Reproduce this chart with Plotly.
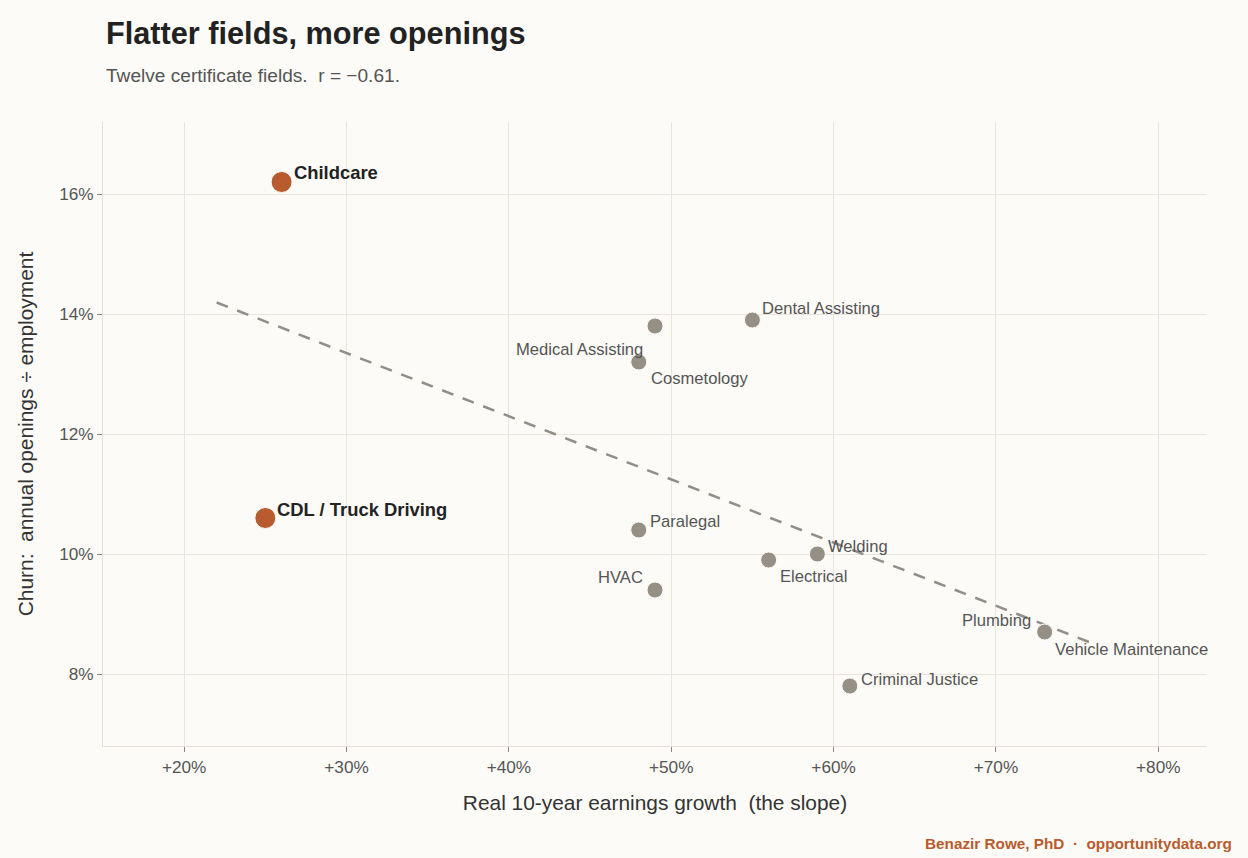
import numpy as np
import plotly.graph_objects as go

# ---- data ----
fields = ["Childcare", "CDL / Truck Driving", "Medical Assisting", "Cosmetology",
          "Dental Assisting", "Paralegal", "HVAC", "Electrical", "Welding",
          "Criminal Justice", "Plumbing", "Vehicle Maintenance"]
growth = [26, 25, 49, 48, 55, 48, 49, 56, 59, 61, 73, 73]          # % real 10-yr earnings growth
churn = [16.2, 10.6, 13.8, 13.2, 13.9, 10.4, 9.4, 9.9, 10.0, 7.8, 8.7, 8.7]  # % openings / employment
highlight = ["Childcare", "CDL / Truck Driving"]
x_ticks = [20, 30, 40, 50, 60, 70, 80]
x_tick_labels = ["+20%", "+30%", "+40%", "+50%", "+60%", "+70%", "+80%"]
y_ticks = [8, 10, 12, 14, 16]
y_tick_labels = ["8%", "10%", "12%", "14%", "16%"]

# label placement (styling only): xanchor, xshift, yshift
label_pos = {
    "Childcare": ("left", 10, 10),
    "CDL / Truck Driving": ("left", 10, 9),
    "Medical Assisting": ("right", -10, -23),
    "Cosmetology": ("left", 10, -16),
    "Dental Assisting": ("left", 8, 12),
    "Paralegal": ("left", 9, 9),
    "HVAC": ("right", -10, 13),
    "Electrical": ("left", 9, -16),
    "Welding": ("left", 9, 8),
    "Criminal Justice": ("left", 9, 7),
    "Plumbing": ("right", -12, 12),
    "Vehicle Maintenance": ("left", 8, -17),
}

BG = "#FCFBF7"
GRID = "#EAE5DA"
ORANGE = "#B85B2E"
GRAY_DOT = "#958F86"
TXT = "#555555"
FONT = "Liberation Sans, Arial, sans-serif"
SP2 = "\u00a0 "

gx = np.array(growth, float)
cy = np.array(churn, float)
slope, intercept = np.polyfit(gx, cy, 1)
tx = np.array([gx.min() - 3, gx.max() + 3])
ty = slope * tx + intercept

fig = go.Figure()
fig.add_trace(go.Scatter(x=tx, y=ty, mode="lines",
                         line=dict(color="#928E87", width=2.5, dash="12px,10px"),
                         hoverinfo="skip", showlegend=False))

gray_idx = [i for i, f in enumerate(fields) if f not in highlight]
hi_idx = [i for i, f in enumerate(fields) if f in highlight]
fig.add_trace(go.Scatter(x=[growth[i] for i in gray_idx], y=[churn[i] for i in gray_idx],
                         mode="markers", showlegend=False,
                         marker=dict(size=16, color=GRAY_DOT, line=dict(width=1, color=BG))))
fig.add_trace(go.Scatter(x=[growth[i] for i in hi_idx], y=[churn[i] for i in hi_idx],
                         mode="markers", showlegend=False,
                         marker=dict(size=21, color=ORANGE, line=dict(width=1, color=BG))))

annotations = []
for f, xv, yv in zip(fields, growth, churn):
    anc, xs, ys = label_pos[f]
    hi = f in highlight
    annotations.append(dict(
        x=xv, y=yv, xref="x", yref="y", text=f"<b>{f}</b>" if hi else f,
        showarrow=False, xanchor=anc, yanchor="middle", xshift=xs, yshift=ys,
        font=dict(family=FONT, size=18.4 if hi else 16.6, color="#222222" if hi else TXT)))

annotations += [
    dict(text="<b>Flatter fields, more openings</b>", xref="paper", yref="paper",
         x=(106 - 103) / 1104, y=1 + (122 - 33) / 624, xanchor="left", yanchor="middle",
         xshift=-2, showarrow=False, font=dict(family=FONT, size=30.7, color="#222222")),
    dict(text="Twelve certificate fields." + SP2 + "r = \u22120.61.", xref="paper", yref="paper",
         x=(106 - 103) / 1104, y=1 + (122 - 75) / 624, xanchor="left", yanchor="middle",
         xshift=-2, showarrow=False, font=dict(family=FONT, size=19.1, color=TXT)),
    dict(text="<b>Benazir Rowe, PhD" + SP2 + "\u00b7" + SP2 + "opportunitydata.org</b>",
         xref="paper", yref="paper",
         x=(1232 - 103) / 1104, y=-(843 - 746) / 624, xanchor="right", yanchor="middle",
         xshift=2, showarrow=False, font=dict(family=FONT, size=15.3, color=ORANGE)),
]

fig.update_layout(
    width=1248, height=858,
    margin=dict(l=103, r=41, t=122, b=112),
    paper_bgcolor=BG, plot_bgcolor=BG,
    font=dict(family=FONT, color=TXT),
    annotations=annotations,
    showlegend=False,
)
fig.update_xaxes(range=[15, 83], tickvals=x_ticks, ticktext=x_tick_labels,
                 showgrid=True, gridcolor=GRID, gridwidth=1, zeroline=False,
                 showline=True, linecolor="#E6E0D4", linewidth=1,
                 ticks="outside", ticklen=5, tickcolor="#888888",
                 tickfont=dict(size=17.2, color=TXT),
                 title=dict(text="Real 10-year earnings growth" + SP2 + "(the slope)",
                            font=dict(size=20.9, color="#333333"), standoff=19))
fig.update_yaxes(range=[6.8, 17.2], tickvals=y_ticks, ticktext=y_tick_labels,
                 showgrid=True, gridcolor=GRID, gridwidth=1, zeroline=False,
                 showline=True, linecolor="#E6E0D4", linewidth=1,
                 ticks="outside", ticklen=5, tickcolor="#888888",
                 tickfont=dict(size=17.2, color=TXT),
                 title=dict(text="Churn:" + SP2 + "annual openings \u00f7 employment",
                            font=dict(size=20.9, color="#333333"), standoff=19))

fig.write_html("out.html")
